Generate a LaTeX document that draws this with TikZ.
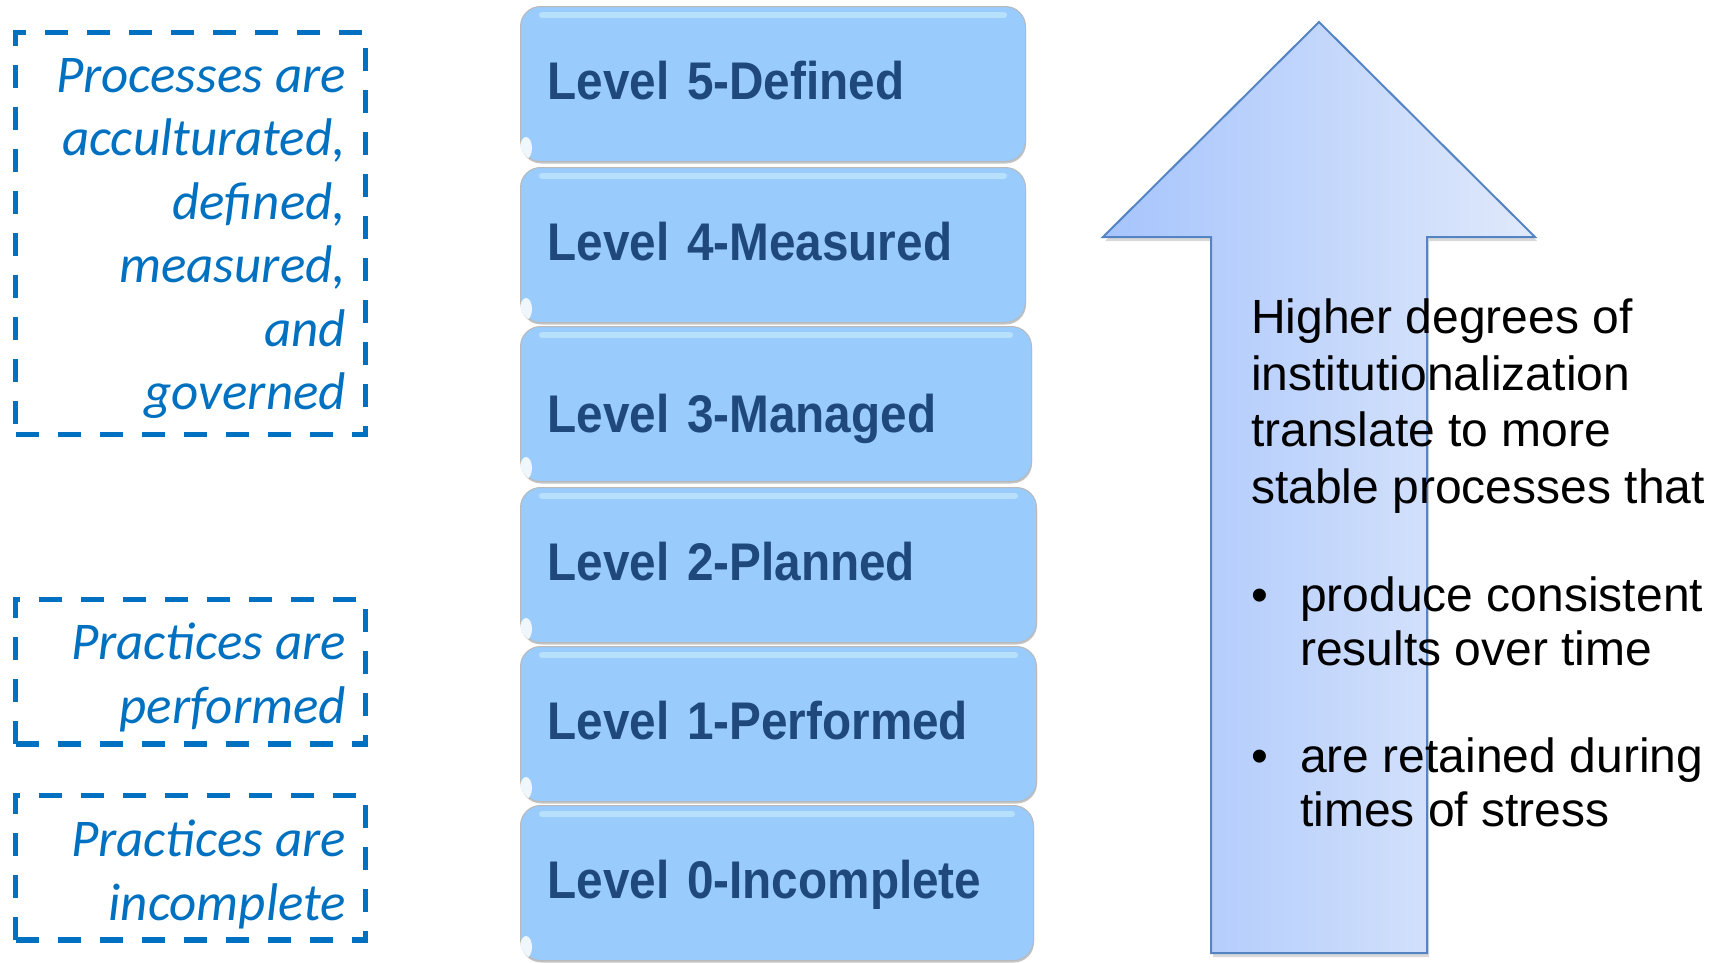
\documentclass[tikz,border=0pt]{standalone}
\usepackage{fontspec}
\setmainfont{Liberation Sans}
\newfontfamily\notefont{Carlito}
\newfontfamily\levelfont[FakeStretch=0.9, WordSpace=0.9]{Liberation Sans}
\usetikzlibrary{
  calc, % For coordinate calculations
  shadows % For the soft shadows under boxes and arrow
}

\definecolor{noteblue}{RGB}{0,112,192}
\definecolor{levelfill}{RGB}{153,203,252}
\definecolor{leveltext}{RGB}{31,73,125}
\definecolor{arrowleft}{RGB}{166,196,252}
\definecolor{arrowright}{RGB}{224,233,251}
\definecolor{arrowline}{RGB}{84,132,196}

\begin{document}
\begin{tikzpicture}[
      x=1pt, y=-1pt, % pixel grid, y runs down
      notebox/.style={draw=noteblue, line width=5.5pt, dash pattern=on 23pt off 19pt,
        minimum width=350pt, anchor=north west, inner sep=0pt, outer sep=0pt}, % dashed frames
      notetext/.style={text=noteblue, align=right, anchor=north east, inner sep=0pt,
        font=\notefont\itshape\fontsize{53}{63.5}\selectfont}, % italic notes
      level/.style={fill=levelfill, draw=gray!55, line width=1pt, rounded corners=20pt,
        anchor=north west, minimum height=155pt, inner xsep=27pt, inner ysep=0pt,
        align=left, text=leveltext, text depth=8pt,
        font=\levelfont\bfseries\fontsize{53}{60}\selectfont,
        drop shadow={shadow xshift=0.5pt, shadow yshift=-2pt, opacity=.45, fill=gray}},
      gloss/.style={white!80!cyan, line width=6pt, line cap=round, opacity=.6}, % top highlight
      upward/.style={draw=arrowline, line width=2pt, left color=arrowleft, right color=arrowright,
        drop shadow={shadow xshift=2pt, shadow yshift=-4pt, opacity=.3, fill=gray}},
      bodytext/.style={anchor=north west, inner sep=0pt, align=left,
        font=\fontsize{48}{56.5}\selectfont},
    ]

    \useasboundingbox (0,0) rectangle (1723,962);

    % Pfeil
    \draw[upward] (1211,953) -- (1211,237) -- (1103,237) -- (1319,22)
      -- (1535,237) -- (1427,237) -- (1427,953) -- cycle;

    % Gestrichelte Rahmen
    \node[notebox, minimum height=402pt] (box1) at (15.5,32.5) {};
    \node[notebox, minimum height=144.5pt] (box2) at (15.5,599.5) {};
    \node[notebox, minimum height=144.5pt] (box3) at (15.5,795.5) {};

    \node[notetext] (note1) at (346,58)
      {Processes are\\acculturated,\\defined,\\measured,\\and\\governed};
    \node[notetext] (note2) at (346,623) {Practices are\\performed};
    \node[notetext] (note3) at (346,820) {Practices are\\incomplete};

    % Stufen
    \foreach \n/\t/\w/\h/\txt in {L5/6/505/38/{Level 5-Defined}, L4/167/505/38/{Level 4-Measured},
        L3/326/511/65/{Level 3-Managed}, L2/487/516/38/{Level 2-Planned},
        L1/646/516/38/{Level 1-Performed}, L0/805/513/38/{Level 0-Incomplete}} {
      \pgfmathsetmacro\tw{\w-54}
      \node[level, text width=\tw pt, text height=\h pt, minimum width=\w pt] (\n) at (520,\t) {\txt};
      \draw[gloss] ($(\n.north west)+(22,9)$) -- ($(\n.north east)+(-22,9)$);
      \begin{scope}
        \clip[rounded corners=20pt] (\n.north west) rectangle (\n.south east);
        \fill[white, opacity=.85] ($(\n.south west)+(6,-14)$) ellipse [x radius=6, y radius=11];
      \end{scope}
    }

    % Text
    \node[bodytext] (claim) at (1251,299)
      {Higher degrees of\\institutionalization\\translate to more\\stable processes that\\[52pt]
       \makebox[49pt][l]{•}produce consistent\\[-3pt]
       \hspace*{49pt}results over time\\[51pt]
       \makebox[49pt][l]{•}are retained during\\[-3pt]
       \hspace*{49pt}times of stress};

  \end{tikzpicture}
\end{document}
